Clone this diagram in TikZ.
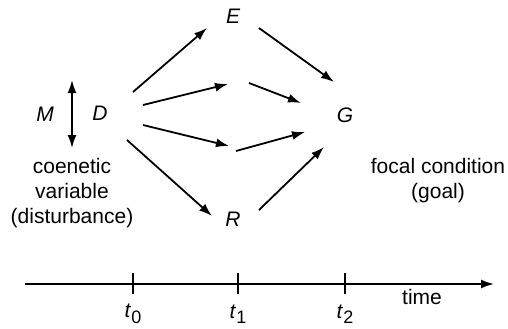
\documentclass[tikz,border=0pt]{standalone}
\usepackage{fontspec}
\setmainfont{Liberation Sans}
\usetikzlibrary{arrows.meta}
\newcommand{\tsub}[1]{\textit{t}\raisebox{-0.5ex}{\fontsize{9}{9}\selectfont #1}}
\begin{document}
\begin{tikzpicture}[x=0.5pt,y=-0.5pt,
  lbl/.style={font=\fontsize{10.5}{12.5}\selectfont\itshape, inner sep=0pt},
  txt/.style={font=\fontsize{10.5}{12.5}\selectfont, align=center, inner sep=0pt},
  arr/.style={line width=0.9pt, -{Latex[length=6.5pt,width=4.5pt]}},
  darr/.style={line width=0.9pt, {Latex[length=6.5pt,width=4.5pt]}-{Latex[length=6.5pt,width=4.5pt]}},
  tick/.style={line width=0.8pt}]
\useasboundingbox (0,0) rectangle (508,328);
% labels
\node[lbl] (M) at (45,114) {M};
\node[lbl] (D) at (100,113) {D};
\node[lbl] (E) at (233,16) {E};
\node[lbl] (G) at (345,115) {G};
\node[lbl] (R) at (233,219) {R};
\node[txt] (cv) at (72,193) {coenetic\\variable\\(disturbance)};
\node[txt] (fc) at (438,180.5) {focal condition\\(goal)};
% coordinates
\coordinate (m1) at (72,80);
\coordinate (m2) at (72,148);
\coordinate (dE1) at (133,92);   \coordinate (dE2) at (207,28);
\coordinate (dU1) at (143,105);  \coordinate (dU2) at (228,84);
\coordinate (uG1) at (249,83);   \coordinate (uG2) at (301,103);
\coordinate (eG1) at (259,28);   \coordinate (eG2) at (334,82);
\coordinate (dL1) at (143,125);  \coordinate (dL2) at (229,146);
\coordinate (lG1) at (236,151);  \coordinate (lG2) at (305,132);
\coordinate (dR1) at (127,140);  \coordinate (dR2) at (212,216);
\coordinate (rG1) at (259,210);  \coordinate (rG2) at (324,147);
\draw[darr] (m1) -- (m2);
\draw[arr] (dE1) -- (dE2);
\draw[arr] (dU1) -- (dU2);
\draw[arr] (uG1) -- (uG2);
\draw[arr] (eG1) -- (eG2);
\draw[arr] (dL1) -- (dL2);
\draw[arr] (lG1) -- (lG2);
\draw[arr] (dR1) -- (dR2);
\draw[arr] (rG1) -- (rG2);
% timeline
\coordinate (ta) at (25,284);
\coordinate (tb) at (494,284);
\draw[arr] (ta) -- (tb);
\foreach \x/\n in {133/0,238/1,345/2}{
  \coordinate (k\n a) at (\x,273);
  \coordinate (k\n b) at (\x,294);
  \draw[tick] (k\n a) -- (k\n b);
}
\node[txt] (t0) at (133,314) {\tsub{0}};
\node[txt] (t1) at (238,314) {\tsub{1}};
\node[txt] (t2) at (345,314) {\tsub{2}};
\node[txt] (time) at (422,297) {time};
\end{tikzpicture}
\end{document}
